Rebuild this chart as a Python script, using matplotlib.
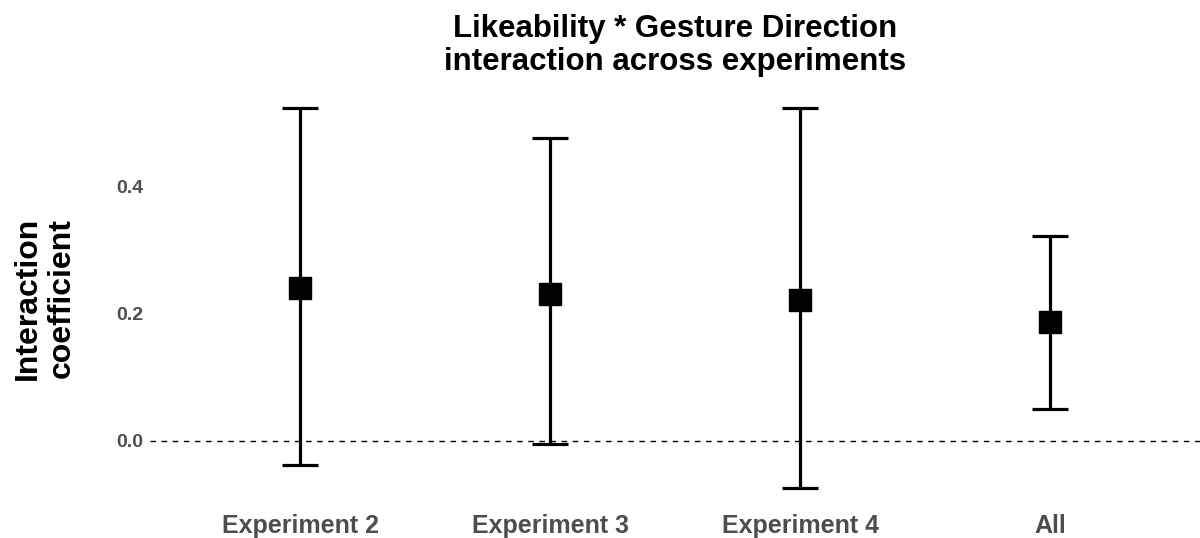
import numpy as np
import matplotlib.pyplot as plt

plt.rcParams['font.family'] = ['Liberation Sans', 'DejaVu Sans']

categories = ['Experiment 2', 'Experiment 3', 'Experiment 4', 'All']
estimate = [0.241, 0.231, 0.222, 0.187]
lower = [-0.038, -0.005, -0.074, 0.050]
upper = [0.524, 0.477, 0.524, 0.323]

est = np.array(estimate)
err = np.vstack([est - np.array(lower), np.array(upper) - est])
xs = np.arange(len(categories))

fig = plt.figure(figsize=(12, 5.38), dpi=100)
ax = fig.add_axes([0.125, 0.0576, 0.875, 0.777])

ax.axhline(0, color='black', lw=1, ls=(0, (4, 4)), zorder=1)
ax.errorbar(xs, est, yerr=err, fmt='s', color='black', ms=16,
            elinewidth=2.3, capsize=13, capthick=2.3, zorder=3)

ax.set_xlim(-0.6, len(categories) - 0.4)
ax.margins(y=0.05)
ax.set_xticks(xs)
ax.set_xticklabels(categories, fontsize=18, fontweight='bold', color='#4d4d4d')
ax.set_yticks([0.0, 0.2, 0.4])
ax.set_yticklabels(['0.0', '0.2', '0.4'], fontsize=14, fontweight='bold', color='#4d4d4d')
ax.tick_params(length=0, axis='x', pad=5)
ax.tick_params(length=0, axis='y', pad=5)
for s in ax.spines.values():
    s.set_visible(False)

ax.set_ylabel('Interaction\ncoefficient', fontsize=23, fontweight='bold',
              labelpad=28, linespacing=1.2)
ax.set_title('Likeability * Gesture Direction\ninteraction across experiments',
             fontsize=22.5, fontweight='bold', pad=14, linespacing=1.1)

fig.savefig('out.png', dpi=100)
